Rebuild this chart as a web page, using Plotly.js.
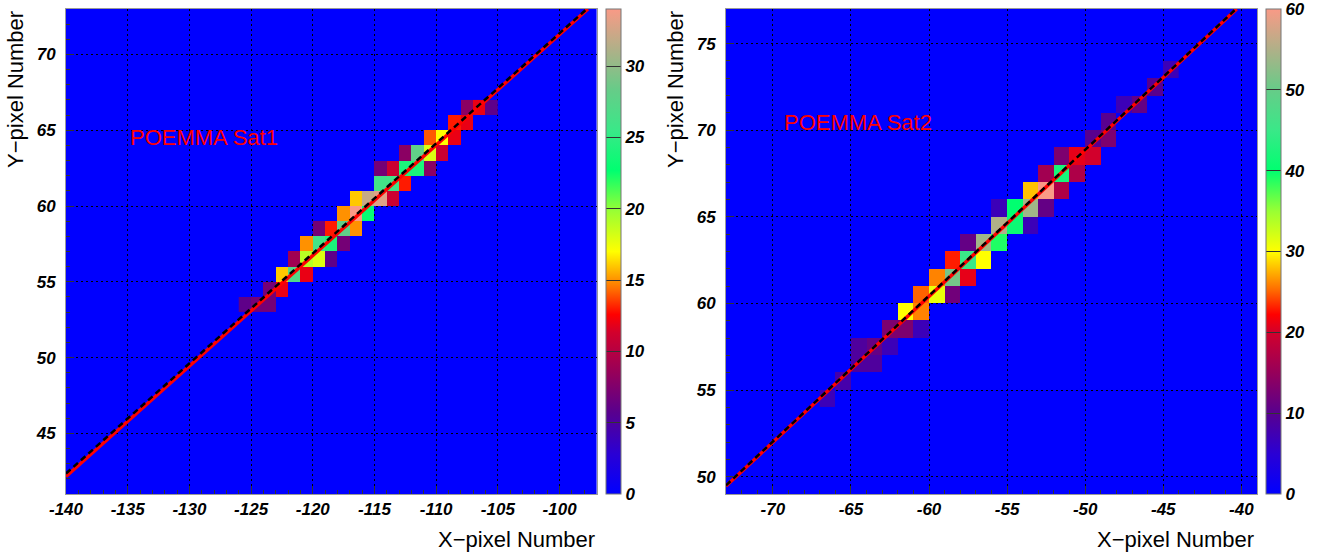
<!DOCTYPE html>
<html><head><meta charset="utf-8">
<script src="https://cdn.plot.ly/plotly-3.0.1.min.js"></script>
<style>html,body{margin:0;padding:0;background:#fff;overflow:hidden}#chart{width:1329px;height:554px}</style>
</head><body><div id="chart"></div>
<script>
// ---------- DATA ----------
// Sat1: lower-edge pixel coordinates of lit pixels and their counts
const sat1X = [-108,-107,-106, -109,-108, -111,-110,-109, -113,-112,-111,-110, -115,-114,-113,-112,-111,
               -115,-114,-113, -117,-116,-115,-114, -118,-117,-116, -120,-119,-118,-117,
               -121,-120,-119,-118, -122,-121,-120,-119, -123,-122,-121, -124,-123, -126,-125,-124];
const sat1Y = [66,66,66, 65,65, 64,64,64, 63,63,63,63, 62,62,62,62,62,
               61,61,61, 60,60,60,60, 59,59,59, 58,58,58,58,
               57,57,57,57, 56,56,56,56, 55,55,55, 54,54, 53,53,53];
const sat1Counts = [8,12,6, 13,12, 14,17,12, 8,28,18,11, 7,11,24,24,8,
                    26,26,13, 16,32,33,11, 15,34,23, 7,13,28,15,
                    15,26,24,7, 9,19,18,6, 16,27,12, 7,12, 6,7,7];
// Sat2
const sat2X = [-45, -46, -48,-47, -49, -50,-49, -52,-51,-50, -53,-52,-51, -54,-53,-52,
               -56,-55,-54,-53, -56,-55,-54, -58,-57,-56, -59,-58,-57, -60,-59,-58,
               -61,-60,-59, -62,-61, -63,-62,-61, -65,-64,-63, -65,-64, -66, -67];
const sat2Y = [73, 72, 71,71, 70, 69,69, 68,68,68, 67,67,67, 66,66,66,
               65,65,65,65, 64,64,64, 63,63,63, 62,62,62, 61,61,61,
               60,60,60, 59,59, 58,58,58, 57,57,57, 56,56, 55, 54];
const sat2Counts = [7, 10, 7,11, 10, 10,13, 13,21,20, 16,42,17, 28,60,17,
                    7,40,54,11, 55,41,7, 11,54,39, 23,45,30, 26,51,21,
                    25,31,12, 30,26, 13,13,7, 9,11,7, 9,9, 8, 7];
// Track lines (reconstructed fit: red, true direction: black dashed)
const sat1FitX = [-140, -97.7],  sat1FitY = [42.15, 73];
const sat1TrueX = [-140, -97.8], sat1TrueY = [42.35, 73];
const sat2FitX = [-73, -40.3],   sat2FitY = [49.46, 77];
const sat2TrueX = [-73, -40.35], sat2TrueY = [49.5, 77];
// Axes
const sat1XRange = [-140, -97], sat1YRange = [41, 73];
const sat2XRange = [-73, -39],  sat2YRange = [49, 77];
const sat1XTicks = [-140,-135,-130,-125,-120,-115,-110,-105,-100];
const sat1YTicks = [45,50,55,60,65,70];
const sat2XTicks = [-70,-65,-60,-55,-50,-45,-40];
const sat2YTicks = [50,55,60,65,70,75];
const sat1ZMax = 34, sat2ZMax = 60;
const sat1ZTicks = [0,5,10,15,20,25,30];
const sat2ZTicks = [0,10,20,30,40,50,60];
const xTitle = 'X\u2212pixel Number', yTitle = 'Y\u2212pixel Number';
const label1 = 'POEMMA Sat1', label2 = 'POEMMA Sat2';

// ---------- BUILD ----------
function grid(xs, ys, zs){
  const x0=Math.min(...xs), x1=Math.max(...xs), y0=Math.min(...ys), y1=Math.max(...ys);
  const xe=[], ye=[];
  for(let x=x0;x<=x1+1;x++) xe.push(x);
  for(let y=y0;y<=y1+1;y++) ye.push(y);
  const z=[]; for(let j=0;j<ye.length-1;j++){ z.push(new Array(xe.length-1).fill(null)); }
  xs.forEach((x,i)=>{ z[ys[i]-y0][x-x0]=zs[i]; });
  return {xe, ye, z};
}
const cs = [[0,'#0000ff'],[0.083,'#2a00d4'],[0.167,'#58008f'],[0.25,'#96005a'],[0.333,'#d2002c'],
            [0.37,'#ff0000'],[0.42,'#ff6a00'],[0.5,'#ffff00'],[0.583,'#99ff33'],[0.667,'#00ff70'],
            [0.75,'#3ae888'],[0.833,'#66cc88'],[0.917,'#b0b088'],[1,'#f99a86']];
const W=1329, H=554;
const px = v=>v/W, py = v=>1 - v/H;
const FONT = 'Liberation Sans, Arial, Helvetica, sans-serif';
const tickFont = {family:FONT, size:17, style:'italic', weight:'bold', color:'#000'};

function cbar(xpix, ticks, zmax){
  // keep the top tick just inside the bar so it is drawn
  const pos = ticks.map(t => Math.min(t, zmax*0.9995));
  return {x:px(xpix), xanchor:'left', thickness:15, thicknessmode:'pixels',
    len:(494-9)/H, lenmode:'fraction', y:py(494), yanchor:'bottom', xpad:0, ypad:0,
    outlinecolor:'#777', outlinewidth:1, tickmode:'array', tickvals:pos, ticktext:ticks.map(String),
    ticks:'inside', ticklen:15, tickcolor:'#333', tickwidth:1, tickfont:tickFont, ticklabelstandoff:4};
}
const g1 = grid(sat1X, sat1Y, sat1Counts), g2 = grid(sat2X, sat2Y, sat2Counts);
const traces = [
  {type:'heatmap', x:g1.xe, y:g1.ye, z:g1.z, colorscale:cs, zmin:0, zmax:sat1ZMax, xaxis:'x', yaxis:'y',
   colorbar:cbar(605.7, sat1ZTicks, sat1ZMax), hoverinfo:'skip'},
  {type:'heatmap', x:g2.xe, y:g2.ye, z:g2.z, colorscale:cs, zmin:0, zmax:sat2ZMax, xaxis:'x2', yaxis:'y2',
   colorbar:cbar(1265.7, sat2ZTicks, sat2ZMax), hoverinfo:'skip'},
  {type:'scatter', mode:'lines', x:sat1FitX, y:sat1FitY, line:{color:'#ff0000', width:3.5}, xaxis:'x', yaxis:'y'},
  {type:'scatter', mode:'lines', x:sat1TrueX, y:sat1TrueY, line:{color:'#000', width:2.5, dash:'6px,4px'}, xaxis:'x', yaxis:'y'},
  {type:'scatter', mode:'lines', x:sat2FitX, y:sat2FitY, line:{color:'#ff0000', width:3.5}, xaxis:'x2', yaxis:'y2'},
  {type:'scatter', mode:'lines', x:sat2TrueX, y:sat2TrueY, line:{color:'#000', width:2.5, dash:'6px,4px'}, xaxis:'x2', yaxis:'y2'}
];
function ax(extra, ticks){
  return Object.assign({
    showgrid:true, gridcolor:'#000', griddash:'2px,3px', gridwidth:1, zeroline:false,
    tickmode:'array', tickvals:ticks, ticktext:ticks.map(String),
    ticks:'inside', ticklen:8, tickcolor:'#333', tickwidth:1,
    minor:{tickmode:'linear', tick0:0, dtick:1, ticks:'inside', ticklen:4, tickcolor:'#333', showgrid:false},
    showline:true, linecolor:'#999', linewidth:1, mirror:true, layer:'above traces',
    tickfont:tickFont, fixedrange:true
  }, extra);
}
const yDom = [py(494), py(9)];
const layout = {
  width:W, height:H, margin:{l:0,r:0,t:0,b:0}, paper_bgcolor:'#fff', plot_bgcolor:'#0000ff', showlegend:false,
  xaxis: ax({domain:[px(66),px(596.6)], range:sat1XRange, anchor:'y', ticklabelstandoff:0}, sat1XTicks),
  yaxis: ax({domain:yDom, range:sat1YRange, anchor:'x', ticklabelstandoff:6}, sat1YTicks),
  xaxis2: ax({domain:[px(726),px(1257)], range:sat2XRange, anchor:'y2', ticklabelstandoff:0}, sat2XTicks),
  yaxis2: ax({domain:yDom, range:sat2YRange, anchor:'x2', ticklabelstandoff:6}, sat2YTicks),
  annotations:[
    {xref:'x', yref:'y', x:-134.95, y:64.5, xanchor:'left', yanchor:'middle', text:label1, showarrow:false,
     font:{family:FONT, size:22, color:'#ff0000'}},
    {xref:'x2', yref:'y2', x:-69.43, y:70.46, xanchor:'left', yanchor:'middle', text:label2, showarrow:false,
     font:{family:FONT, size:22, color:'#ff0000'}},
    {xref:'paper', yref:'paper', x:px(597), y:py(539), xanchor:'right', yanchor:'middle', text:xTitle, showarrow:false,
     font:{family:FONT, size:22, color:'#000'}},
    {xref:'paper', yref:'paper', x:px(1256), y:py(539), xanchor:'right', yanchor:'middle', text:xTitle, showarrow:false,
     font:{family:FONT, size:22, color:'#000'}},
    {xref:'paper', yref:'paper', x:px(15.5), y:py(9), xanchor:'center', yanchor:'top', textangle:-90, text:yTitle, showarrow:false,
     font:{family:FONT, size:22, color:'#000'}},
    {xref:'paper', yref:'paper', x:px(675.5), y:py(9), xanchor:'center', yanchor:'top', textangle:-90, text:yTitle, showarrow:false,
     font:{family:FONT, size:22, color:'#000'}}
  ]
};
Plotly.newPlot('chart', traces, layout, {displayModeBar:false, staticPlot:true});
</script></body></html>
